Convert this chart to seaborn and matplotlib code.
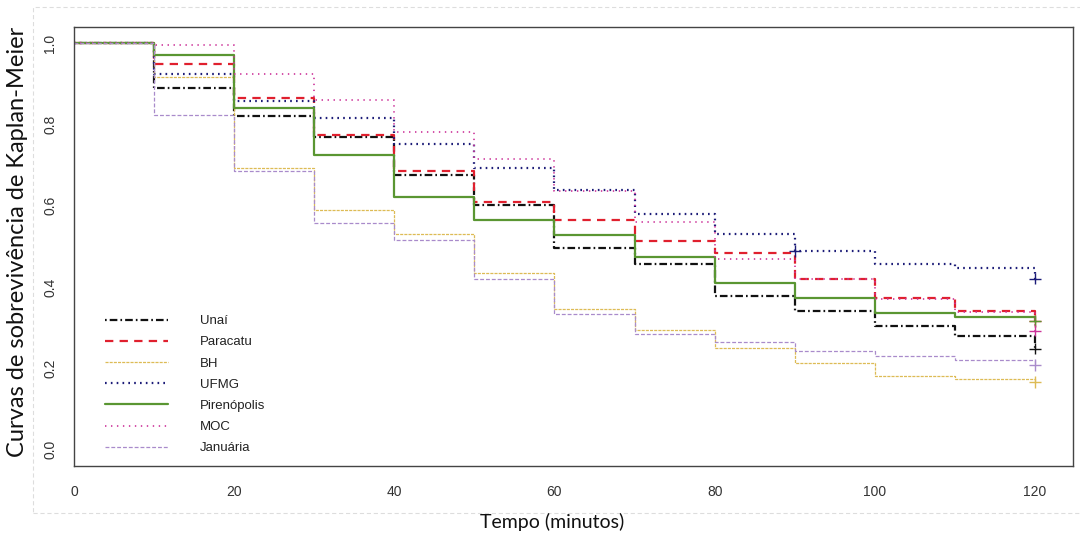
import matplotlib
matplotlib.use("Agg")
import matplotlib.pyplot as plt
import seaborn as sns
import pandas as pd
from matplotlib.patches import Rectangle

# ---------------- data ----------------
times = [0, 10, 20, 30, 40, 50, 60, 70, 80, 90, 100, 110, 120]
series_names = ["Unaí", "Paracatu", "BH", "UFMG", "Pirenópolis", "MOC", "Januária"]

unai = [1.0, 0.890, 0.822, 0.770, 0.676, 0.601, 0.497, 0.458, 0.379, 0.341, 0.304, 0.281, 0.249]
paracatu = [1.0, 0.948, 0.866, 0.775, 0.686, 0.609, 0.566, 0.513, 0.485, 0.419, 0.374, 0.341, 0.317]
bh = [1.0, 0.916, 0.694, 0.590, 0.531, 0.436, 0.346, 0.295, 0.251, 0.213, 0.182, 0.174, 0.167]
ufmg = [1.0, 0.924, 0.859, 0.815, 0.752, 0.694, 0.638, 0.581, 0.530, 0.489, 0.456, 0.446, 0.421]
pirenopolis = [1.0, 0.972, 0.841, 0.724, 0.621, 0.566, 0.529, 0.475, 0.411, 0.373, 0.337, 0.326, 0.317]
moc = [1.0, 0.995, 0.924, 0.860, 0.781, 0.715, 0.636, 0.560, 0.470, 0.419, 0.371, 0.338, 0.293]
januaria = [1.0, 0.824, 0.685, 0.557, 0.515, 0.419, 0.333, 0.284, 0.264, 0.243, 0.231, 0.222, 0.208]

# censoring marks (time, survival)
censor_series = ["UFMG", "UFMG", "Unaí", "Paracatu", "BH", "Pirenópolis", "MOC", "Januária"]
censor_times = [90, 120, 120, 120, 120, 120, 120, 120]
censor_values = [0.489, 0.421, 0.249, 0.317, 0.167, 0.317, 0.293, 0.208]

x_ticks = [0, 20, 40, 60, 80, 100, 120]
y_ticks = [0.0, 0.2, 0.4, 0.6, 0.8, 1.0]
x_label = "Tempo (minutos)"
y_label = "Curvas de sobrevivência de Kaplan-Meier"

# ---------------- styling ----------------
sns.set_style("white")
plt.rcParams["font.family"] = ["Liberation Sans", "DejaVu Sans"]
plt.rcParams["lines.scale_dashes"] = False

values = {"Unaí": unai, "Paracatu": paracatu, "BH": bh, "UFMG": ufmg,
          "Pirenópolis": pirenopolis, "MOC": moc, "Januária": januaria}
colors = {"Unaí": "#111111", "Paracatu": "#E0202E", "BH": "#DDBB55", "UFMG": "#1C1C78",
          "Pirenópolis": "#5A9632", "MOC": "#CC3399", "Januária": "#A98BCB"}
styles = {"Unaí": (0, (1.2, 2.2, 5.5, 2.2)), "Paracatu": (0, (6, 4.5)),
          "BH": (0, (2.2, 0.8)), "UFMG": (0, (1.2, 3.0)), "Pirenópolis": "-",
          "MOC": (0, (1.0, 3.3)), "Januária": (0, (2.8, 1.4))}
widths = {"Unaí": 1.6, "Paracatu": 1.6, "BH": 0.9, "UFMG": 1.6, "Pirenópolis": 1.6,
          "MOC": 1.2, "Januária": 0.9}

fig = plt.figure(figsize=(10.8, 5.39), dpi=100)
ax = fig.add_axes([74 / 1080, 1 - 466 / 539, (1073 - 74) / 1080, (466 - 27) / 539])

for name in series_names:
    df = pd.DataFrame({"t": times, "s": values[name]})
    sns.lineplot(data=df, x="t", y="s", ax=ax, estimator=None, drawstyle="steps-post",
                 color=colors[name], linestyle=styles[name], linewidth=widths[name],
                 label=name)

cdf = pd.DataFrame({"t": censor_times, "s": censor_values, "g": censor_series})
sns.scatterplot(data=cdf, x="t", y="s", hue="g", palette=colors, marker="+", s=70,
                linewidth=1.0, ax=ax, legend=False, zorder=5)

ax.set_xlim(0, 124.75)
ax.set_ylim(-0.04, 1.04)
ax.set_xticks(x_ticks)
ax.set_xticklabels([str(v) for v in x_ticks])
ax.set_yticks(y_ticks)
ax.set_yticklabels([f"{v:.1f}" for v in y_ticks], rotation=90, va="center")
ax.tick_params(axis="both", direction="out", length=6, width=0.9, color="#444444",
               labelsize=10, labelcolor="#333333", pad=6)
ax.tick_params(axis="x", pad=8)
ax.tick_params(axis="y", pad=6)
ax.set_xlabel("")
ax.set_ylabel("")
for sp in ax.spines.values():
    sp.set_visible(True)
    sp.set_color("#444444")
    sp.set_linewidth(1.0)

leg = ax.legend(loc="upper left", bbox_to_anchor=(0.031, 0.344), frameon=False,
                fontsize=9.5, handlelength=4.8, handletextpad=2.4, labelspacing=0.68,
                borderpad=0, borderaxespad=0)
for t in leg.get_texts():
    t.set_color("#222222")

# light outer frame
fig.add_artist(Rectangle((33 / 1080, 1 - 513 / 539), (1080 - 33) / 1080 + 0.01,
                         (513 - 7) / 539, transform=fig.transFigure, fill=False,
                         edgecolor="#dddddd", linewidth=0.8, linestyle=(0, (3, 2))))

fig.text(18 / 1080, 1 - 242 / 539, y_label, rotation=90, ha="center", va="center",
         fontsize=17, family=["Lato", "DejaVu Sans"], color="#111111")
fig.text(552 / 1080, 1 - 522 / 539, x_label, ha="center", va="center",
         fontsize=14, family=["Lato", "DejaVu Sans"], color="#111111")

fig.savefig("out.png", dpi=100)
